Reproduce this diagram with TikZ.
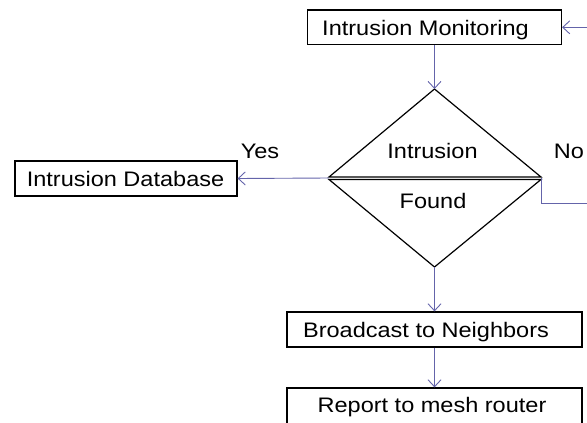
\documentclass[tikz,border=0pt]{standalone}
\usepackage{fontspec}
\setmainfont[FakeStretch=1.12]{Liberation Sans}
\usetikzlibrary{arrows.meta}
\definecolor{conn}{RGB}{100,100,170}
\begin{document}
\begin{tikzpicture}[x=1pt,y=-1pt,
  box/.style={draw=black, line width=1.2pt, minimum height=35pt, inner sep=0pt},
  txt/.style={anchor=base, inner sep=0pt, font=\fontsize{21pt}{24pt}\selectfont},
  link/.style={draw=conn, line width=0.9pt},
  arr/.style={link, -{Straight Barb[length=7pt,width=13pt]}},
  dshape/.style={draw=black, line width=1.2pt, line join=miter}]
\useasboundingbox (0,0) rectangle (587,423);
\clip (0,0) rectangle (587,423);
% boxes
\node[box, minimum width=254pt, minimum height=34.5pt] (mon) at (434.5,27.3) {};
\node[box, minimum width=222pt] (db) at (126,178.5) {};
\node[box, minimum width=295pt] (bc) at (434.5,329.5) {};
\node[box, minimum width=295pt, minimum height=40pt] (rep) at (434.5,408) {};
% texts
\node[txt] (montxt) at (425.5,35) {Intrusion Monitoring};
\node[txt] (dbtxt) at (125.5,186) {Intrusion Database};
\node[txt] (bctxt) at (426,337) {Broadcast to Neighbors};
\node[txt] (reptxt) at (432,412) {Report to mesh router};
% decision diamond
\coordinate (dtop) at (434.5,89);
\coordinate (dleft) at (329,178);
\coordinate (dright) at (541,178);
\coordinate (dbot) at (434.5,267);
\draw[dshape] (329,177) -- (dtop) -- (541,177) -- cycle;
\draw[dshape] (329,179.5) -- (dbot) -- (541,179.5) -- cycle;
\node[txt] (q1) at (432.5,158) {Intrusion};
\node[txt] (q2) at (433,208) {Found};
\node[txt] (yes) at (260,158) {Yes};
\node[txt] (no) at (569,158) {No};
% connectors
\coordinate (inR) at (587,27.3);
\coordinate (outR) at (587,203);
\draw[arr] (inR) -- (mon.east);
\draw[arr] (mon.south) -- (dtop);
\draw[arr] (dleft) -- (db.east);
\draw[link] (dright) |- (outR);
\draw[arr] (dbot) -- (bc.north);
\draw[arr] (bc.south) -- (rep.north);
\end{tikzpicture}
\end{document}
